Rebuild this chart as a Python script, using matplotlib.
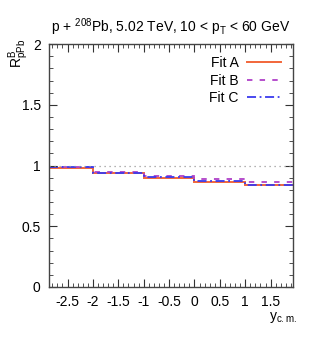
import matplotlib
matplotlib.use("Agg")
import matplotlib.pyplot as plt
from matplotlib.ticker import MultipleLocator
import numpy as np

# rapidity bin edges (c.m. frame) and the three fits
edges = [-2.865, -2.0, -1.0, 0.0, 1.0, 1.935]
fit_a = [0.982, 0.942, 0.895, 0.866, 0.840]
fit_b = [0.992, 0.945, 0.912, 0.888, 0.865]
fit_c = [0.985, 0.936, 0.905, 0.871, 0.842]
xticks = [-2.5, -2, -1.5, -1, -0.5, 0, 0.5, 1, 1.5]
yticks = [0, 0.5, 1, 1.5, 2]

plt.rcParams['font.family'] = ['Liberation Sans', 'DejaVu Sans']
plt.rcParams['mathtext.fontset'] = 'custom'
plt.rcParams['mathtext.rm'] = 'Liberation Sans'
plt.rcParams['mathtext.it'] = 'Liberation Sans'

fig = plt.figure(figsize=(3.11, 3.5), dpi=100)
ax = fig.add_axes([0.1576, 0.18, 0.7835, 0.694])

ax.axhline(1.0, color='#999999', lw=0.9, ls=(0, (1, 3)))
ax.stairs(fit_a, edges, color='#f2663a', lw=1.4, ls='-', label='Fit A', baseline=None)
ax.stairs(fit_b, edges, color='#b040c8', lw=1.3, ls=(0, (3, 4)), label='Fit B', baseline=None)
ax.stairs(fit_c, edges, color='#3a3aee', lw=1.3, ls=(0, (5, 2, 1, 2)), label='Fit C', baseline=None)

ax.set_xlim(edges[0], edges[-1])
ax.set_ylim(0, 2)
ax.set_xticks(xticks)
ax.set_xticklabels([f'{t:g}' for t in xticks])
ax.set_yticks(yticks)
ax.set_yticklabels([f'{t:g}' for t in yticks])
ax.xaxis.set_minor_locator(MultipleLocator(0.1))
ax.yaxis.set_minor_locator(MultipleLocator(0.1))
ax.tick_params(which='both', direction='in', top=True, right=True, labelsize=10, color='#333333')
ax.tick_params(which='major', length=6, pad=6)
ax.tick_params(which='minor', length=3)
for s in ax.spines.values():
    s.set_color('#444444')
    s.set_linewidth(1.0)

leg = ax.legend(loc='upper right', frameon=False, fontsize=10, markerfirst=False,
                handlelength=2.4, handletextpad=0.6, labelspacing=0.25,
                borderaxespad=0.3, bbox_to_anchor=(0.99, 0.99))
for t in leg.get_texts():
    t.set_ha('right')

fig.text(0.55, 0.91, r'p + $^{208}$Pb, 5.02 TeV, 10 < p$_{\rm T}$ < 60 GeV',
         ha='center', va='baseline', fontsize=10)
fig.text(0.02, 0.888, r'R$^{\rm B}_{\rm pPb}$', rotation=90, ha='left', va='top', fontsize=10)
fig.text(0.91, 0.085, r'y$_{\rm c.m.}$', ha='center', va='baseline', fontsize=10)

fig.savefig('out.png', dpi=100)
